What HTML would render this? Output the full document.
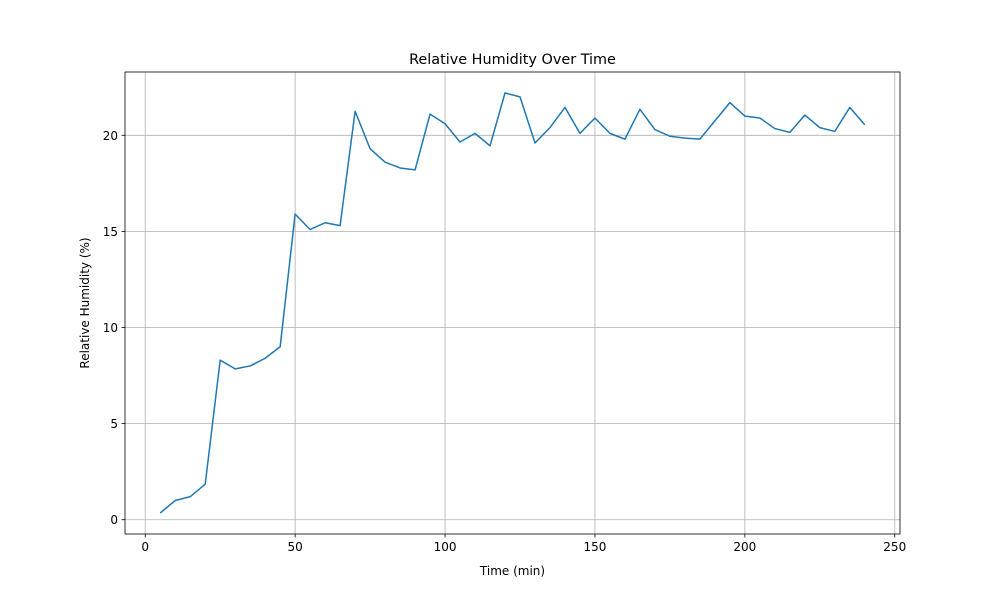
<!DOCTYPE html>
<html><head><meta charset="utf-8"><style>
body{margin:0;background:#fff;font-family:"Liberation Sans","DejaVu Sans",sans-serif;}
svg text{font-family:"DejaVu Sans","Liberation Sans",sans-serif;}
</style></head><body>
<svg id="chart" width="1000" height="600" xmlns="http://www.w3.org/2000/svg">
<rect width="1000" height="600" fill="#fff"/>
<g id="grid"></g>
<g id="ticks"></g>
<path id="line" fill="none" stroke="#1f77b4" stroke-width="1.5" stroke-linejoin="round"/>
<rect x="125" y="72" width="775" height="462" fill="none" stroke="#000" stroke-width="0.8"/>
<text x="512.5" y="64" text-anchor="middle" font-size="14.4">Relative Humidity Over Time</text>
<text x="512.5" y="575" text-anchor="middle" font-size="12">Time (min)</text>
<text transform="translate(89,303) rotate(-90)" text-anchor="middle" font-size="12">Relative Humidity (%)</text>
</svg>
<script>
const times = [5,10,15,20,25,30,35,40,45,50,55,60,65,70,75,80,85,90,95,100,105,110,115,120,125,130,135,140,145,150,155,160,165,170,175,180,185,190,195,200,205,210,215,220,225,230,235,240];
const humidity = [0.35,1.0,1.2,1.85,8.3,7.85,8.0,8.4,9.0,15.9,15.1,15.45,15.3,21.25,19.3,18.6,18.3,18.2,21.1,20.6,19.65,20.1,19.45,22.2,22.0,19.6,20.4,21.45,20.1,20.9,20.1,19.8,21.35,20.3,19.95,19.85,19.8,20.75,21.7,21.0,20.9,20.35,20.15,21.05,20.4,20.2,21.45,20.55];
const xTicks = [0,50,100,150,200,250];
const yTicks = [0,5,10,15,20];

const L=125,R=900,T=72,B=534;
const xmin=Math.min(...times),xmax=Math.max(...times);
const ymin=Math.min(...humidity),ymax=Math.max(...humidity);
const xlo=xmin-(xmax-xmin)*0.05,xhi=xmax+(xmax-xmin)*0.05;
const ylo=ymin-(ymax-ymin)*0.05,yhi=ymax+(ymax-ymin)*0.05;
const sx=v=>L+(v-xlo)/(xhi-xlo)*(R-L);
const sy=v=>B-(v-ylo)/(yhi-ylo)*(B-T);
const NS="http://www.w3.org/2000/svg";
const grid=document.getElementById('grid'),ticks=document.getElementById('ticks');
function mk(tag,attrs,parent){const e=document.createElementNS(NS,tag);for(const k in attrs)e.setAttribute(k,attrs[k]);parent.appendChild(e);return e;}
xTicks.forEach(v=>{
  const x=sx(v);
  const g=mk('line',{x1:x,x2:x,y1:T,y2:B,stroke:'#b0b0b0','stroke-width':0.8},grid);
  
  
  mk('line',{x1:x,x2:x,y1:B,y2:B+3.5,stroke:'#000','stroke-width':0.8},ticks);
  const t=mk('text',{x:x,y:B+17,'text-anchor':'middle','font-size':12},ticks);
  t.textContent=v;
  
  
});
yTicks.forEach(v=>{
  const y=sy(v);
  const g=mk('line',{x1:L,x2:R,y1:y,y2:y,stroke:'#b0b0b0','stroke-width':0.8},grid);
  
  
  mk('line',{x1:L-3.5,x2:L,y1:y,y2:y,stroke:'#000','stroke-width':0.8},ticks);
  const t=mk('text',{x:L-7,y:y+4.5,'text-anchor':'end','font-size':12},ticks);
  t.textContent=v;
  
  
});
document.getElementById('line').setAttribute('d',times.map((t,i)=>(i?'L':'M')+sx(t).toFixed(2)+','+sy(humidity[i]).toFixed(2)).join(' '));
</script>
</body></html>
